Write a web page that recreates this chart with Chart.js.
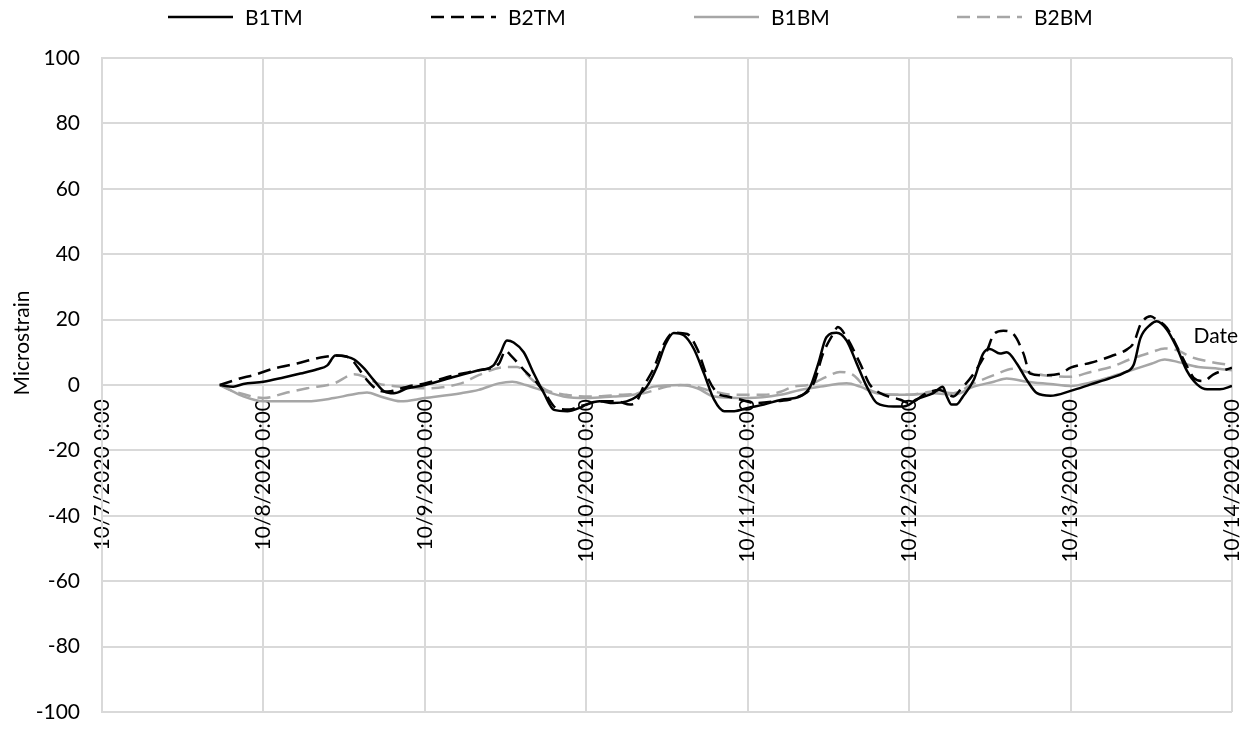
<!DOCTYPE html>
<html>
<head>
<meta charset="utf-8">
<title>Microstrain</title>
<script src="https://cdn.jsdelivr.net/npm/chart.js@4.4.1/dist/chart.umd.min.js"></script>
<style>
  html, body { margin: 0; padding: 0; background: #fff; }
  #wrap { width: 1250px; height: 733px; }
</style>
</head>
<body>
<div id="wrap"><canvas id="strain-chart" width="1250" height="733"></canvas></div>
<script>
// Hours since 10/7/2020 0:00 and microstrain readings for each gauge
const b1tmHours = [17.5, 19.5, 21, 24, 27, 29.5, 32, 33.5, 34.7, 36.5, 37.5, 39, 40.4, 42, 43.4, 45.4, 48, 52.4, 56, 58.2,
    59.2, 60.2, 61.2, 62.7, 64.2, 65.7, 67.2, 69.2, 71, 72, 74, 76, 78, 79.5, 81, 82.5, 83.8, 85, 86.5, 88,
    89.5, 91, 92.5, 94, 96, 98.4, 101, 103.8, 105.3, 106.5, 107.7, 109.2, 110.7, 112.2, 113.7, 115.2, 117.7, 119.2, 120, 121,
    123.6, 125, 125.6, 126.3, 127, 128, 129.6, 131, 132, 133.5, 134.5, 136, 137.5, 139, 141, 144, 147, 150, 152, 153.4,
    154.4, 155.9, 156.8, 158.3, 159.8, 161.3, 162.8, 164.3, 166.2, 168];
const b1tmStrain = [0, -0.5, 0.3, 1, 2.3, 3.5, 4.8, 6, 9, 8.6, 7.8, 5, 1.5, -2, -2.5, -1, 0, 2.5, 4.5, 6,
    9.6, 13.6, 13, 10, 3.5, -2.5, -7.6, -8, -7, -6, -5, -5.5, -5, -3.5, -0.5, 5.5, 12.6, 15.9, 15.2, 11,
    3.5, -4.5, -8, -8, -7, -6, -4.5, -3.5, -0.5, 6.6, 14.6, 16, 13.6, 6.6, -0.5, -5.5, -6.6, -6.6, -6, -4.5,
    -2.5, -0.5, -3.5, -6, -6, -3.5, 1.5, 9.6, 11, 9.6, 10, 6.6, 1.5, -2.5, -3.3, -1.8, 0.2, 2.2, 3.8, 6.3,
    14.4, 18.5, 19.5, 17, 11.4, 4.3, 0.2, -1.3, -1.3, -0.3];

const b2tmHours = [17.5, 19, 20.5, 22.5, 25.5, 29, 32.5, 35, 37, 38, 39.4, 41, 42.5, 45.4, 48, 52.4, 56, 59, 60, 60.8,
    61.7, 63, 64.5, 66, 67.5, 69.5, 71, 72, 73.6, 76.6, 78.5, 79.5, 80.5, 82, 83.3, 85, 87, 88.5, 90, 91.5,
    93, 95, 97, 100, 103, 105.8, 107.2, 108.7, 109.4, 110.7, 112.7, 114.2, 115.7, 118.7, 120, 122.6, 124.5, 126.6, 127.6, 129.6,
    131.6, 132.6, 134, 135.5, 137, 138, 140, 142.5, 144, 147, 150, 152.4, 153.4, 154.4, 155.9, 156.8, 158.3, 160, 161.5, 162.3,
    163.8, 165.2, 168];
const b2tmStrain = [0, 1, 2, 3, 5, 6.6, 8.4, 9, 8, 5.5, 1.5, -1.5, -2, -0.5, 0.5, 3, 4.5, 6.5, 10.5, 9,
    7, 4, 1, -3, -7, -7.5, -6.5, -6, -5, -5, -6, -5, -0.5, 5, 11.6, 16, 15.6, 11, 2.5, -2.5,
    -3.5, -4.5, -5.5, -5, -4, 0.5, 9.6, 15.6, 17.7, 14.6, 6.6, 0, -2.5, -4.5, -5.5, -2.5, -1.5, -3.5, -1.5, 3.5,
    10.6, 15.6, 16.6, 15.6, 9.6, 3.5, 3, 3.5, 5.3, 6.8, 8.8, 10.9, 12.9, 18.5, 21, 20, 17.5, 11, 5, 2.2,
    1.2, 3.2, 5.3];

const b1bmHours = [17.5, 19, 21, 24, 27, 30.5, 34.5, 37, 39.4, 41.4, 44.4, 48, 53.4, 56, 59, 61, 63, 66, 68.6, 72,
    76, 79, 82, 86, 88.5, 91, 96, 100.8, 103.8, 106.8, 110.7, 112.7, 115.2, 120, 123.6, 126.6, 129.6, 132.6, 134.5, 137.5,
    141, 144, 147, 150, 153, 156, 158, 160, 163, 166, 168];
const b1bmStrain = [0, -1.5, -3.5, -5, -5, -5, -4, -3, -2.3, -3.5, -5, -4, -2.5, -1.5, 0.5, 1, 0, -2, -3.5, -4,
    -3.5, -3, -0.5, 0, -1, -3.5, -4, -3, -1.5, -0.5, 0.5, -0.5, -2.5, -3, -2.5, -3, -0.5, 1, 2, 1,
    0.3, -0.3, 0.8, 2.5, 4.5, 6.5, 7.8, 7, 5.5, 5, 4.5];

const b2bmHours = [17.5, 19, 20.5, 24, 27.5, 30.5, 34.5, 37.5, 39, 41, 44.4, 48, 53.4, 56, 60, 61.7, 64, 66, 69, 72.6,
    77, 80.5, 84, 87, 90, 94, 98.4, 101, 102.8, 105, 107.7, 109.7, 111.7, 113.7, 117.7, 120, 123.6, 126.6, 129.6, 132.6,
    135.5, 137.5, 140, 144, 147, 150, 153, 156, 158, 160, 162, 165, 168];
const b2bmStrain = [0, -1.5, -2.5, -4, -2.3, -1, 0.5, 3.3, 2.5, 0.5, -0.5, -1, 0.5, 3, 5.5, 5.5, 1.5, -1.5, -3, -3.5,
    -3, -2.5, -0.5, 0, -1.5, -3, -3, -2, -0.5, 0, 2.5, 4, 3, -1, -3, -3, -2, -2.5, 0.5, 3,
    5, 4, 3, 2.5, 4, 5.5, 8, 10, 11.2, 10.5, 8.5, 7, 6];

// Axis setup
const yTicks = [-100, -80, -60, -40, -20, 0, 20, 40, 60, 80, 100];
const dayLabels = ['10/7/2020 0:00', '10/8/2020 0:00', '10/9/2020 0:00', '10/10/2020 0:00',
    '10/11/2020 0:00', '10/12/2020 0:00', '10/13/2020 0:00', '10/14/2020 0:00'];

const FONT = 'Lato, "Open Sans", sans-serif';
const GRID = '#d9d9d9';
const GREY = '#a6a6a6';

function toPoints(hours, values) {
    return hours.map((h, i) => ({ x: h, y: values[i] }));
}

// Legend drawn as a row of line samples across the top
const lineLegend = {
    id: 'lineLegend',
    afterDraw(chart) {
        const ctx = chart.ctx;
        const startX = 168;
        const slot = 263;
        const y = 17;
        ctx.save();
        ctx.font = '21px ' + FONT;
        ctx.textBaseline = 'middle';
        ctx.textAlign = 'left';
        chart.data.datasets.forEach((ds, i) => {
            const x = startX + i * slot;
            ctx.strokeStyle = ds.borderColor;
            ctx.lineWidth = 2.5;
            ctx.setLineDash(ds.borderDash || []);
            ctx.beginPath();
            ctx.moveTo(x, y);
            ctx.lineTo(x + 65, y);
            ctx.stroke();
            ctx.setLineDash([]);
            ctx.fillStyle = '#000';
            ctx.fillText(ds.label, x + 77, y + 1);
        });
        ctx.restore();
    }
};

// Axis titles: y title on the left, "Date" near the right end of the x axis
const axisTitles = {
    id: 'axisTitles',
    afterDraw(chart) {
        const ctx = chart.ctx;
        const area = chart.chartArea;
        const yScale = chart.scales.y;
        ctx.save();
        ctx.font = '21px ' + FONT;
        ctx.fillStyle = '#000';
        ctx.textBaseline = 'middle';

        ctx.textAlign = 'right';
        ctx.fillText('Date', area.right + 6, yScale.getPixelForValue(15));

        ctx.translate(22, 343);
        ctx.rotate(-Math.PI / 2);
        ctx.textAlign = 'center';
        ctx.fillText('Microstrain', 0, 0);
        ctx.restore();
    }
};

const series = [
    { label: 'B1TM', hours: b1tmHours, values: b1tmStrain, color: '#000', dash: [] },
    { label: 'B2TM', hours: b2tmHours, values: b2tmStrain, color: '#000', dash: [13, 7] },
    { label: 'B1BM', hours: b1bmHours, values: b1bmStrain, color: GREY, dash: [] },
    { label: 'B2BM', hours: b2bmHours, values: b2bmStrain, color: GREY, dash: [13, 7] }
];

// keep the plot area fixed by the layout padding alone
function dropScalePadding(scale) {
    scale.paddingLeft = 0;
    scale.paddingRight = 0;
    scale.paddingTop = 0;
    scale.paddingBottom = 0;
}

const ctx = document.getElementById('strain-chart').getContext('2d');
const strainChart = new Chart(ctx, {
    type: 'line',
    data: {
        datasets: series.map(s => ({
            label: s.label,
            data: toPoints(s.hours, s.values),
            borderColor: s.color,
            borderDash: s.dash,
            borderWidth: 2.5,
            pointRadius: 0,
            fill: false,
            cubicInterpolationMode: 'monotone'
        }))
    },
    options: {
        responsive: false,
        animation: false,
        layout: {
            padding: { top: 58, right: 18, bottom: 21, left: 0 }
        },
        plugins: {
            legend: { display: false },
            tooltip: { enabled: false }
        },
        scales: {
            x: {
                type: 'linear',
                position: { y: 0 },
                min: 0,
                max: 168,
                afterBuildTicks: scale => {
                    scale.ticks = dayLabels.map((_, i) => ({ value: i * 24 }));
                },
                afterFit: dropScalePadding,
                ticks: {
                    autoSkip: false,
                    minRotation: 90,
                    maxRotation: 90,
                    padding: 14,
                    color: '#000',
                    font: { family: FONT, size: 21 },
                    callback: (value) => dayLabels[Math.round(value / 24)]
                },
                grid: { color: GRID, lineWidth: 2, drawTicks: false },
                border: { color: GRID, width: 2 }
            },
            y: {
                min: -100,
                max: 100,
                afterBuildTicks: scale => {
                    scale.ticks = yTicks.map(v => ({ value: v }));
                },
                afterFit: scale => {
                    scale.width = 102;
                    dropScalePadding(scale);
                },
                ticks: {
                    padding: 22,
                    color: '#000',
                    font: { family: FONT, size: 21 }
                },
                grid: { color: GRID, lineWidth: 2, drawTicks: false },
                border: { color: GRID, width: 2 }
            }
        }
    },
    plugins: [lineLegend, axisTitles]
});
</script>
</body>
</html>
